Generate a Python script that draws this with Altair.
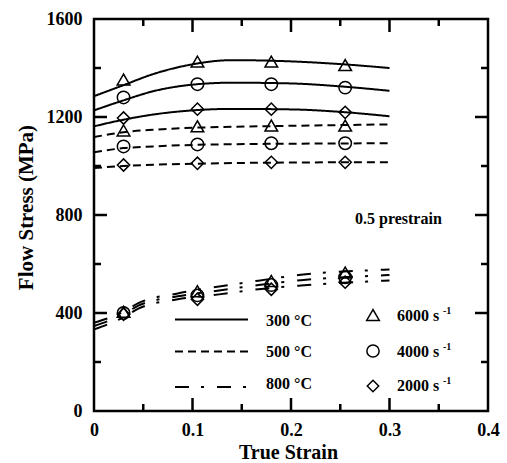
import altair as alt
import pandas as pd

# ---------------- data ----------------
temps = ["300 °C", "500 °C", "800 °C"]
rates = ["6000", "4000", "2000"]

strain_curve = [0, 0.03, 0.06, 0.1, 0.14, 0.2, 0.25, 0.3]
c300_6000 = [1285, 1330, 1375, 1415, 1432, 1427, 1416, 1400]
c300_4000 = [1227, 1268, 1305, 1332, 1340, 1337, 1325, 1307]
c300_2000 = [1162, 1189, 1210, 1227, 1233, 1231, 1221, 1203]
c500_6000 = [1118, 1138, 1148, 1156, 1160, 1164, 1167, 1170]
c500_4000 = [1056, 1073, 1080, 1086, 1089, 1091, 1092, 1093]
c500_2000 = [992, 1000, 1005, 1009, 1012, 1014, 1015, 1015]

strain_curve_800 = [0, 0.03, 0.045, 0.085, 0.127, 0.167, 0.21, 0.29, 0.3]
c800_6000 = [360, 405, 440, 480, 508, 532, 556, 576, 578]
c800_4000 = [347, 395, 430, 468, 492, 514, 534, 553, 555]
c800_2000 = [333, 383, 418, 456, 476, 497, 512, 531, 533]

strain_marker = [0.03, 0.105, 0.18, 0.255]
m300_6000 = [1353, 1426, 1426, 1412]
m300_4000 = [1280, 1334, 1334, 1320]
m300_2000 = [1196, 1232, 1232, 1219]
m500_6000 = [1145, 1162, 1165, 1165]
m500_4000 = [1080, 1088, 1093, 1093]
m500_2000 = [1004, 1011, 1015, 1015]
m800_6000 = [405, 489, 531, 565]
m800_4000 = [400, 472, 514, 546]
m800_2000 = [395, 456, 497, 526]

x_labels = [0, 0.1, 0.2, 0.3, 0.4]
y_labels = [0, 400, 800, 1200, 1600]
x_major = [0.1, 0.2, 0.3]
x_minor = [0.05, 0.15, 0.25, 0.35]
y_major = [400, 800, 1200]
y_minor = [200, 600, 1000, 1400]

legend_rate_labels = ["6000 s", "4000 s", "2000 s"]
annotation = "0.5 prestrain"

# ---------------- tables ----------------
curve_sets = [
    ("300 °C", "6000", strain_curve, c300_6000),
    ("300 °C", "4000", strain_curve, c300_4000),
    ("300 °C", "2000", strain_curve, c300_2000),
    ("500 °C", "6000", strain_curve, c500_6000),
    ("500 °C", "4000", strain_curve, c500_4000),
    ("500 °C", "2000", strain_curve, c500_2000),
    ("800 °C", "6000", strain_curve_800, c800_6000),
    ("800 °C", "4000", strain_curve_800, c800_4000),
    ("800 °C", "2000", strain_curve_800, c800_2000),
]
rows = []
for t, r, xs, ys in curve_sets:
    for xv, yv in zip(xs, ys):
        rows.append({"strain": xv, "stress": yv, "temp": t, "rate": r, "series": t + r})
curves = pd.DataFrame(rows)

marker_sets = [
    ("300 °C", "6000", m300_6000), ("300 °C", "4000", m300_4000), ("300 °C", "2000", m300_2000),
    ("500 °C", "6000", m500_6000), ("500 °C", "4000", m500_4000), ("500 °C", "2000", m500_2000),
    ("800 °C", "6000", m800_6000), ("800 °C", "4000", m800_4000), ("800 °C", "2000", m800_2000),
]
mrows = []
for t, r, ys in marker_sets:
    for xv, yv in zip(strain_marker, ys):
        mrows.append({"strain": xv, "stress": yv, "temp": t, "rate": r})
markers = pd.DataFrame(mrows)

W, H = 394, 392
FONT = "Liberation Serif"
dash_range = [[1, 0], [8, 5], [14, 12, 3, 13]]
shape_range = ["triangle-up", "circle", "diamond"]
size_range = [160, 150, 130]

xscale = alt.Scale(domain=[0, 0.4], nice=False, zero=False)
yscale = alt.Scale(domain=[0, 1600], nice=False, zero=False)

X = alt.X("strain:Q", scale=xscale, axis=alt.Axis(
    values=x_labels, labelExpr="datum.value == 0 ? '0' : format(datum.value, '.1f')",
    title="True Strain", titleX=194, titleY=47, titleBaseline="alphabetic", titleFontSize=20,
    labelBaseline="alphabetic", labelPadding=24, ticks=False, tickSize=0, domain=False,
    grid=False, labelFlush=False, labelOverlap=False))
Y = alt.Y("stress:Q", scale=yscale, axis=alt.Axis(
    values=y_labels, format="d", title="Flow Stress (MPa)", titleX=-62, titleY=188,
    titleAngle=270, titleBaseline="alphabetic", titleAlign="center",
    labelPadding=12, ticks=False, tickSize=0, domain=False, grid=False,
    labelFlush=False, labelOverlap=False, labelBaseline="middle"))

lines = alt.Chart(curves).mark_line(color="black", strokeWidth=2, interpolate="monotone").encode(
    x=X, y=Y, detail="series:N",
    strokeDash=alt.StrokeDash("temp:N", scale=alt.Scale(domain=temps, range=dash_range), legend=None),
)

points = alt.Chart(markers).mark_point(filled=False, color="black", strokeWidth=1.5, opacity=1).encode(
    x=X, y=Y,
    shape=alt.Shape("rate:N", scale=alt.Scale(domain=rates, range=shape_range), legend=None),
    size=alt.Size("rate:N", scale=alt.Scale(domain=rates, range=size_range), legend=None),
)

# inward ticks on all four sides
def xticks(vals, length):
    d = pd.DataFrame({"strain": vals})
    b = alt.Chart(d).mark_rule(color="black", strokeWidth=2.5).encode(
        x=X, y=alt.value(H), y2=alt.value(H - length))
    t = alt.Chart(d).mark_rule(color="black", strokeWidth=2.5).encode(
        x=X, y=alt.value(0), y2=alt.value(length))
    return [b, t]

def yticks(vals, length):
    d = pd.DataFrame({"stress": vals})
    l = alt.Chart(d).mark_rule(color="black", strokeWidth=2.5).encode(
        y=Y, x=alt.value(0), x2=alt.value(length))
    r = alt.Chart(d).mark_rule(color="black", strokeWidth=2.5).encode(
        y=Y, x=alt.value(W), x2=alt.value(W - length))
    return [l, r]

tick_layers = xticks(x_major, 13) + xticks(x_minor, 7) + yticks(y_major, 13) + yticks(y_minor, 7)

# annotation
anno = alt.Chart(pd.DataFrame({"t": [annotation]})).mark_text(
    font=FONT, fontWeight="bold", fontSize=16, align="left", baseline="alphabetic", color="black"
).encode(text="t:N", x=alt.value(261), y=alt.value(205))

# manual legend
legend_layers = []
line_rows_y = [300.5, 332.5, 368]
temp_text_y = [302, 333, 365]
sym_y = [296, 332, 367]
rate_text_y = [297, 333, 367]
one = pd.DataFrame({"k": [0]})
for i in range(3):
    legend_layers.append(alt.Chart(one).mark_rule(
        color="black", strokeWidth=2, strokeDash=dash_range[i]).encode(
        x=alt.value(81), x2=alt.value(154), y=alt.value(line_rows_y[i])))
    legend_layers.append(alt.Chart(one).mark_text(
        font=FONT, fontWeight="bold", fontSize=16, align="left", baseline="middle",
        color="black", text=temps[i]).encode(x=alt.value(172), y=alt.value(temp_text_y[i])))
    legend_layers.append(alt.Chart(one).mark_point(
        shape=shape_range[i], size=size_range[i], filled=False, color="black",
        strokeWidth=1.5, opacity=1).encode(x=alt.value(279), y=alt.value(sym_y[i])))
    legend_layers.append(alt.Chart(one).mark_text(
        font=FONT, fontWeight="bold", fontSize=16, align="left", baseline="middle",
        color="black", text=legend_rate_labels[i]).encode(x=alt.value(303), y=alt.value(rate_text_y[i])))
    legend_layers.append(alt.Chart(one).mark_text(
        font=FONT, fontWeight="bold", fontSize=10, align="left", baseline="middle",
        color="black", text="-1").encode(x=alt.value(349), y=alt.value(rate_text_y[i] - 5)))

chart = alt.layer(lines, points, *tick_layers, anno, *legend_layers).properties(
    width=W, height=H,
    autosize=alt.AutoSizeParams(type="none"),
    padding={"left": 94, "top": 19, "right": 19, "bottom": 52},
    background="white",
).configure_view(stroke="black", strokeWidth=2.5).configure_axis(
    labelFont=FONT, labelFontSize=18, labelFontWeight="bold", labelColor="black",
    titleFont=FONT, titleFontSize=21, titleFontWeight="bold", titleColor="black",
)

chart.save("out.html", embed_options={"renderer": "svg", "actions": False})
